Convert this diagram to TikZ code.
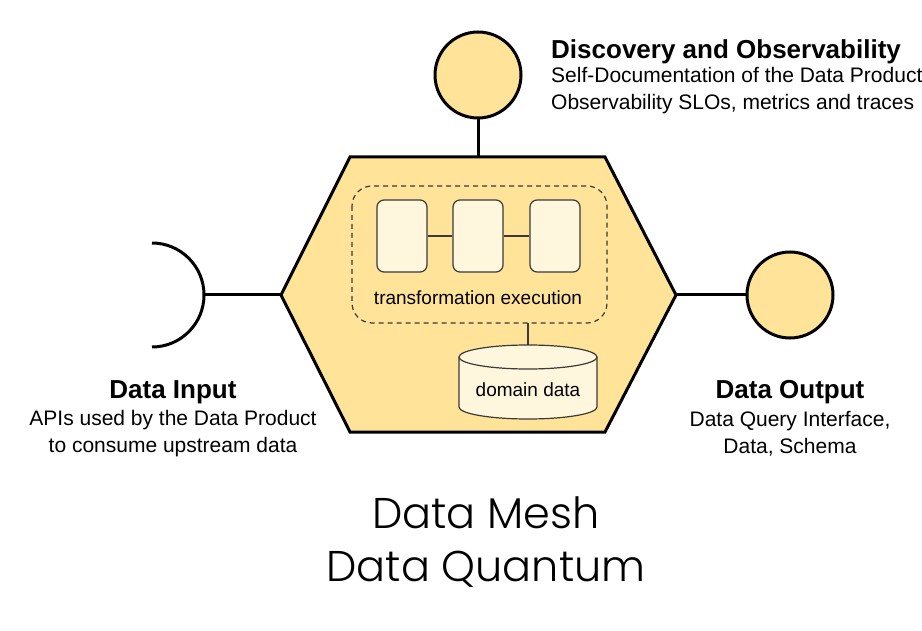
\documentclass[tikz,border=0pt]{standalone}
\usepackage{fontspec}
\setmainfont{Liberation Sans}
\newfontfamily\titlefont{Poppins}[UprightFont=*-Light]
\definecolor{hexfill}{HTML}{FFE399}
\definecolor{boxfill}{HTML}{FFF6DE}
\definecolor{edge}{HTML}{3A3A3A}
\tikzset{
  heavy/.style={line width=3pt, draw=black},
  port/.style={circle, heavy, fill=hexfill, minimum size=86pt, inner sep=0pt},
  stepbox/.style={draw=edge, line width=1.2pt, fill=boxfill, rounded corners=7pt,
    minimum width=50pt, minimum height=72pt, inner sep=0pt},
  thin/.style={draw=edge, line width=1.2pt},
  inner/.style={font=\fontsize{19}{22}\selectfont, inner sep=0pt},
  head/.style={font=\fontsize{26}{30}\selectfont\bfseries, inner sep=0pt},
  body/.style={font=\fontsize{21}{27}\selectfont, inner sep=0pt, align=center},
}
\begin{document}
\begin{tikzpicture}[x=1pt, y=-1pt]
\useasboundingbox (0,0) rectangle (922,631);
\fill[white] (0,0) rectangle (922,631);

% central hexagon
\draw[heavy, fill=hexfill, line join=miter]
  (350,157) -- (605,157) -- (676,295) -- (605,432) -- (350,432) -- (281,295) -- cycle;
\coordinate (hexL) at (281,295);
\coordinate (hexR) at (676,295);
\coordinate (hexT) at (478,157);

% transformation pipeline
\draw[edge, line width=1.2pt, dash pattern=on 5pt off 4pt, rounded corners=20pt]
  (352,186) rectangle (607,323);
\coordinate (pipeB) at (528,323);
\node[stepbox] (s1) at (402,236) {};
\node[stepbox] (s2) at (478,236) {};
\node[stepbox] (s3) at (555,236) {};
\draw[thin] (s1) -- (s2);
\draw[thin] (s2) -- (s3);
\node[inner] (trx) at (478,298) {transformation execution};

% domain data store (cylinder)
\coordinate (dbTop) at (528,345);
\filldraw[thin, fill=boxfill]
  (459,357) -- (459,407) arc[start angle=180, end angle=360, x radius=69pt, y radius=12pt]
  -- (597,357) arc[start angle=0, end angle=180, x radius=69pt, y radius=12pt] -- cycle;
\draw[thin] (459,357) arc[start angle=180, end angle=360, x radius=69pt, y radius=12pt];
\node[inner] (db) at (528,390) {domain data};
\draw[thin] (pipeB) -- (dbTop);

% discovery port
\node[port] (disc) at (478,75) {};
\draw[heavy] (disc.south) -- (hexT);

% output port
\node[port] (out) at (790,295) {};
\draw[heavy] (hexR) -- (out.west);

% input socket
\draw[heavy] (152,243) arc[start angle=90, end angle=-90, radius=52pt];
\coordinate (inE) at (204,295);
\draw[heavy] (inE) -- (hexL);

% labels
\node[head, anchor=west] at (551,52) {Discovery and Observability};
\node[body, anchor=west, align=left] at (551,91) {Self-Documentation of the Data Product\\Observability SLOs, metrics and traces};

\node[head] at (173,392) {Data Input};
\node[body] at (173,434) {APIs used by the Data Product\\to consume upstream data};

\node[head] at (790,392) {Data Output};
\node[body] at (790,434) {Data Query Interface,\\Data, Schema};

\node[font=\titlefont\fontsize{43}{53}\selectfont, align=center, inner sep=0pt] at (486,542) {Data Mesh\\Data Quantum};
\end{tikzpicture}
\end{document}
